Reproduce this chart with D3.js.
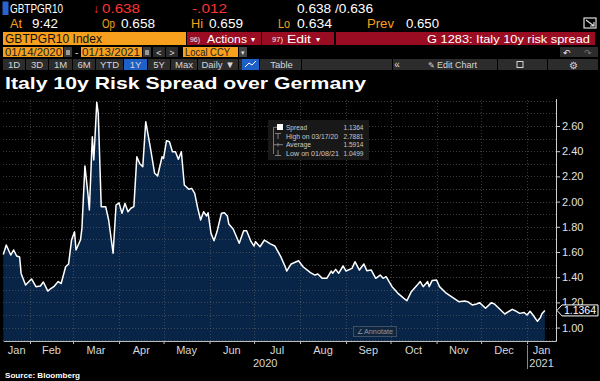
<!DOCTYPE html>
<html><head><meta charset="utf-8">
<script src="https://cdn.jsdelivr.net/npm/d3@7"></script>
<style>
body{margin:0;background:#000;}
svg{display:block;}
text{font-family:"Liberation Sans",Arial,sans-serif;}
</style>
</head><body>
<svg id="c" width="600" height="381"></svg>
<script>
// ---------- DATA ----------
const startDate = "2020-01-14";
// days since start date
const dayOffsets = [0,2,5,7,9,11,12,15,19,22,25,27,30,32,34,37,39,42,44,46,48,49,52,53,55,57,58,60,61,63,64,66,69,71,74,76,78,80,82,84,86,88,90,92,94,96,99,102,104,107,108,110,112,114,116,118,120,122,125,127,129,131,133,135,137,138,140,142,144,147,149,151,152,155,159,162,164,167,169,170,173,176,180,183,187,190,191,194,199,202,207,210,212,215,218,221,222,224,226,229,231,235,237,240,243,245,248,251,254,256,258,262,266,270,272,275,276,279,281,283,286,287,289,292,294,298,302,307,311,313,316,319,321,325,329,331,334,338,343,345,348,351,353,355,357,360,362,363,365];
const spread = [1.58,1.656,1.576,1.616,1.568,1.56,1.43,1.338,1.386,1.325,1.33,1.362,1.29,1.31,1.325,1.365,1.35,1.483,1.505,1.695,1.76,1.616,1.695,1.788,2.283,2.066,1.933,2.515,2.33,2.7881,2.70,1.96,1.96,1.854,1.59,1.973,1.99,1.907,1.986,1.92,1.947,1.96,2.356,2.30,2.277,2.634,2.436,2.225,2.203,2.356,2.343,2.483,2.475,2.396,2.396,2.336,2.396,2.132,2.098,2.105,2.066,1.95,1.854,1.92,1.886,1.912,1.748,1.69,1.76,1.907,1.912,1.886,1.822,1.78,1.669,1.769,1.769,1.682,1.648,1.682,1.642,1.695,1.664,1.648,1.563,1.483,1.449,1.505,1.531,1.483,1.436,1.417,1.425,1.391,1.391,1.449,1.431,1.462,1.431,1.489,1.449,1.47,1.523,1.457,1.505,1.452,1.457,1.391,1.417,1.391,1.404,1.325,1.272,1.232,1.213,1.285,1.298,1.338,1.365,1.325,1.365,1.325,1.373,1.378,1.325,1.278,1.246,1.206,1.211,1.206,1.18,1.187,1.198,1.153,1.198,1.187,1.153,1.108,1.145,1.134,1.113,1.12,1.10,1.13,1.10,1.0499,1.08,1.11,1.1364];
const yTicks = [1.00,1.20,1.40,1.60,1.80,2.00,2.20,2.40,2.60];
const monthLabels = ["Jan","Feb","Mar","Apr","May","Jun","Jul","Aug","Sep","Oct","Nov","Dec","Jan"];
const yearLabels = ["2020","2021"];
const legendLabels = ["Spread","High on 03/17/20","Average","Low on 01/08/21"];
const legendValues = ["1.1364","2.7881","1.5914","1.0499"];
const lastValue = "1.1364";

// ---------- SETUP ----------
const svg = d3.select("#c");
svg.append("rect").attr("width",600).attr("height",381).attr("fill","#000");
const parse = d3.timeParse("%Y-%m-%d");
const t0 = parse(startDate);
const data = dayOffsets.map((d,i)=>({date:d3.timeDay.offset(t0,d), v:spread[i]}));

function txt(x,y,s,size,fill,o={}){
  const e = svg.append("text").attr("x",x).attr("y",y).attr("font-size",size).attr("fill",fill).text(s);
  if(o.w) e.attr("textLength",o.w).attr("lengthAdjust","spacingAndGlyphs");
  if(o.anchor) e.attr("text-anchor",o.anchor);
  if(o.bold) e.attr("font-weight","bold");
  return e;
}
function box(x,y,w,h,fill){ return svg.append("rect").attr("x",x).attr("y",y).attr("width",w).attr("height",h).attr("fill",fill); }

const ORANGE="#f7a01e", RED="#ff3232", DRED="#9a0c22", GRAY="#2c2c2c", LT="#d6d6d6";

// ---------- HEADER ----------
box(2.5,1.5,6,13.5,"#2a62d0");
txt(10,13,"GBTPGR10",12.5,"#fff",{w:53});
txt(93,13,"\u2193",12,RED);
txt(102,13,"0.638",12.5,RED,{w:38});
txt(192,13,"-.012",12.5,RED,{w:35});
txt(297,13,"0.638 /0.636",12.5,"#fff",{w:76});

txt(10,28,"At",12,ORANGE,{w:12});
txt(32,28,"9:42",12,"#fff",{w:26});
txt(102,28,"Op",12,ORANGE,{w:13});
txt(121,28,"0.658",12,"#fff",{w:34});
txt(191,28,"Hi",12,ORANGE,{w:12});
txt(209,28,"0.659",12,"#fff",{w:34});
txt(278,28,"Lo",12,ORANGE,{w:12});
txt(297,28,"0.634",12,"#fff",{w:35});
txt(367,28,"Prev",12,ORANGE,{w:27});
txt(406,28,"0.650",12,"#fff",{w:33});
svg.append("rect").attr("x",584).attr("y",18).attr("width",12).attr("height",10).attr("fill","none").attr("stroke","#ddd").attr("stroke-width",1.2);
svg.append("path").attr("d","M586,20 L594,26 M594,22 L594,26 L590,26").attr("stroke","#ddd").attr("fill","none").attr("stroke-width",1.2);

// row 3
box(3,32,183,13,ORANGE);
txt(5,43,"GBTPGR10 Index",12,"#111",{w:97});
box(187,32,74,13,DRED);
txt(190,42,"96)",8,"#eee",{w:10});
txt(207,43,"Actions",11.5,"#fff",{w:40});
txt(251,42,"\u25BE",8,"#fff");
box(262,32,72,13,DRED);
txt(272,42,"97)",8,"#eee",{w:11});
txt(287,43,"Edit",11.5,"#fff",{w:24});
txt(316,42,"\u25BE",8,"#fff");
box(336,32,259,13,DRED);
txt(590,43,"G 1283: Italy 10y risk spread",11.5,"#fff",{w:163,anchor:"end"});

// row 4
box(3,47,60,10,ORANGE); txt(5,56,"01/14/2020",10.5,"#222",{w:57});
box(64,47,8,10,"#3a3a3a"); box(66,50,4,5,"#999");
txt(75,56,"-",10,"#ddd");
box(81,47,61,10,ORANGE); txt(82,56,"01/13/2021",10.5,"#222",{w:58});
box(143,47,8,10,"#3a3a3a"); box(145,50,4,5,"#999");
box(153,47,12,10,GRAY); txt(159,56,"<",9,"#ddd",{anchor:"middle"});
box(166,47,12,10,GRAY); txt(172,56,">",9,"#ddd",{anchor:"middle"});
box(183,47,55,10,ORANGE); txt(185,56,"Local CCY",10.5,"#222",{w:45});
box(239,47,8,10,"#444"); txt(243,55,"\u25BE",7,"#ddd",{anchor:"middle"});
box(560,47,38,10,GRAY);
txt(567,56,"\u21B6",9,"#eee",{anchor:"middle"});
txt(588,56,"\u21B7",9,"#777",{anchor:"middle"});

// row 5 buttons
box(3,59,595,11,GRAY);
const btns=[["1D",3,25],["3D",26,48],["1M",49,72],["6M",73,95],["YTD",96,123],["1Y",124,147,1],["5Y",148,170],["Max",171,197],["Daily \u25BC",198,238],["",242,259,1],["Table",262,301]];
btns.forEach(b=>{
  if(b[3]) box(b[1],59,b[2]-b[1],11,"#1f5fc8");
  svg.append("line").attr("x1",b[2]+0.5).attr("x2",b[2]+0.5).attr("y1",59).attr("y2",70).attr("stroke","#000");
  if(b[0]) txt((b[1]+b[2])/2,68,b[0],9.5,LT,{anchor:"middle"});
});
svg.append("polyline").attr("points","245,67 249,63 252,65 256,61").attr("fill","none").attr("stroke","#fff").attr("stroke-width",1);
[392,497,547].forEach(x=>svg.append("line").attr("x1",x+0.5).attr("x2",x+0.5).attr("y1",59).attr("y2",70).attr("stroke","#000"));
txt(397,68,"\u00AB",10,LT,{anchor:"middle"});
txt(428,68,"\u270E",8,LT);
txt(437,68,"Edit Chart",9.5,LT,{w:40});
svg.append("rect").attr("x",517).attr("y",61.5).attr("width",6).attr("height",6).attr("fill","none").attr("stroke",LT);
txt(573,68.5,"\u2699",10,LT,{anchor:"middle"});

// title
txt(5,89,"Italy 10y Risk Spread over Germany",17,"#fff",{w:361,bold:true});

// ---------- CHART ----------
const x = d3.scaleTime().domain([t0, new Date(2021,0,20,12)]).range([3.3,556]);
const y = d3.scaleLinear().domain([0.8937,2.8]).range([341,100.8]);

const g = svg.append("g");
g.append("path").datum(data)
 .attr("d", d3.area().x(d=>x(d.date)).y0(341).y1(d=>y(d.v)))
 .attr("fill","#082447");

// grid
const gridVals = d3.range(9,29).map(k=>k/10);
g.selectAll(".hg").data(gridVals).join("line")
 .attr("x1",3).attr("x2",556).attr("y1",d=>Math.round(y(d))+0.5).attr("y2",d=>Math.round(y(d))+0.5)
 .attr("stroke","#6a6a6a").attr("stroke-opacity",0.55).attr("stroke-dasharray","1,2");
const monthStarts = d3.timeMonth.range(d3.timeMonth.ceil(t0), new Date(2021,0,2));
g.selectAll(".vg").data(monthStarts).join("line")
 .attr("x1",d=>Math.round(x(d))+0.5).attr("x2",d=>Math.round(x(d))+0.5).attr("y1",100).attr("y2",341)
 .attr("stroke","#6a6a6a").attr("stroke-opacity",0.55).attr("stroke-dasharray","1,2");

g.append("path").datum(data)
 .attr("d", d3.line().x(d=>x(d.date)).y(d=>y(d.v)))
 .attr("fill","none").attr("stroke","#fff").attr("stroke-width",1.5).attr("stroke-linejoin","round");

// x axis
const xa = svg.append("g").attr("transform","translate(0,341)")
 .call(d3.axisBottom(x).tickValues(monthStarts).tickSize(3).tickSizeOuter(0).tickFormat(""));
xa.select(".domain").attr("stroke","#bbb");
xa.selectAll(".tick line").attr("stroke","#bbb");

const bounds = [t0, ...monthStarts];
const lastX = 556;
monthLabels.forEach((m,i)=>{
  const a = x(bounds[i]);
  const b = i+1<bounds.length ? x(bounds[i+1]) : lastX;
  txt((a+b)/2, 354, m, 11, LT, {anchor:"middle"});
});
const jan21 = new Date(2021,0,1);
txt((x(t0)+x(jan21))/2, 367, yearLabels[0], 11, LT, {anchor:"middle"});
txt((x(jan21)+lastX)/2, 367, yearLabels[1], 11, LT, {anchor:"middle"});
svg.append("line").attr("x1",Math.round(x(jan21))+0.5).attr("x2",Math.round(x(jan21))+0.5).attr("y1",345).attr("y2",369).attr("stroke","#888");

// y axis
const ya = svg.append("g").attr("transform","translate(556,0)")
 .call(d3.axisRight(y).tickValues(yTicks).tickSize(4).tickPadding(2).tickSizeOuter(0).tickFormat(d3.format(".2f")));
ya.select(".domain").attr("stroke","#ccc").attr("d","M0.5,99V341.5");
ya.selectAll(".tick line").attr("stroke","#ccc");
ya.selectAll(".tick text").attr("fill","#e0e0e0").attr("font-size",11).attr("font-family","Liberation Sans,Arial,sans-serif");

// last value marker
const ly = y(+lastValue);
svg.append("path").attr("d",`M557,${ly} L562,${ly-5.5} L598,${ly-5.5} L598,${ly+5.5} L562,${ly+5.5} Z`)
 .attr("fill","#000").attr("stroke","#fff").attr("stroke-width",1);
txt(580,ly+3.8,lastValue,10.5,"#fff",{anchor:"middle"});

// legend
box(268,120,101,40,"#181818");
svg.append("line").attr("x1",273.5).attr("x2",273.5).attr("y1",127).attr("y2",154).attr("stroke","#777");
const legendW = [21,52,25,53];
legendLabels.forEach((l,i)=>{
  const by = 130 + i*8.7;
  txt(286,by,l,7.5,"#c8c8c8",{w:legendW[i]});
  txt(343.5,by,legendValues[i],7.5,"#c8c8c8",{w:20});
});
box(277,124,6,6,"#fff");
svg.append("path").attr("d","M274,127.3 H277 M275,133.5 H281 M278,133.5 V139 M274,144.7 H283 M278,143 V146.5 M278,150 V155.5 M275,155.5 H281")
 .attr("stroke","#999").attr("fill","none").attr("stroke-width",0.8);

// annotate button
svg.append("rect").attr("x",353.5).attr("y",326.5).attr("width",43).attr("height",10).attr("fill","#10263f").attr("stroke","#3e5068");
txt(357,334,"\u2220",6.5,"#8c98a8");
txt(364,334,"Annotate",6.5,"#8c98a8",{w:29});

// source
txt(5,377.5,"Source: Bloomberg",8,"#fff",{w:75,bold:true});
</script>
</body></html>
